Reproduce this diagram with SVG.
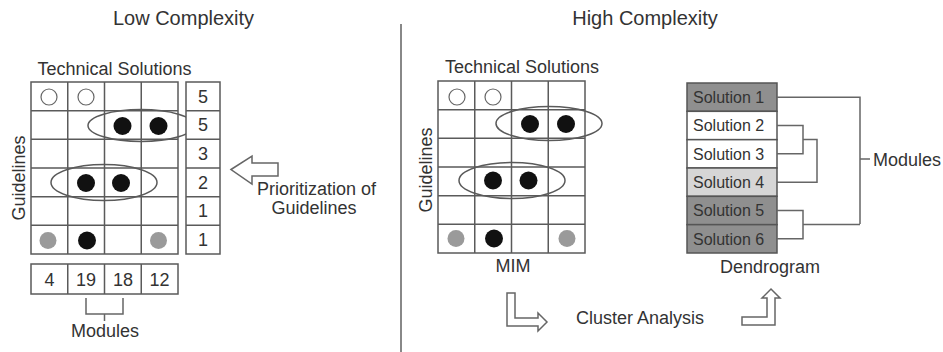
<svg xmlns="http://www.w3.org/2000/svg" width="943" height="352" viewBox="0 0 943 352">
<style>
text{font-family:"Liberation Sans",Arial,sans-serif;font-size:18px;fill:#333}
.t{font-size:20px}
.m{text-anchor:middle}
.g{fill:none;stroke:#5a5a5a;stroke-width:1.5}
.cell{fill:#fff;stroke:#5a5a5a;stroke-width:1.5}
.ell{fill:none;stroke:#5a5a5a;stroke-width:1.5}
.blk{fill:#111}
.gry{fill:#9a9a9a}
.open{fill:#fff;stroke:#666;stroke-width:1.2}
.ln{fill:none;stroke:#666;stroke-width:1.5}
.arr{fill:#fff;stroke:#666;stroke-width:1.5;stroke-linejoin:miter}
.dk{fill:#8f8f8f;stroke:#555;stroke-width:1.5}
.wh{fill:#fff;stroke:#555;stroke-width:1.5}
.lt{fill:#d6d6d6;stroke:#555;stroke-width:1.5}
.sol{font-size:16px}
</style>

<g id="titles">
<text class="t m" x="183.5" y="25">Low Complexity</text>
<text class="t m" x="645" y="25">High Complexity</text>
</g>
<line id="separator" x1="401" y1="24" x2="401" y2="352" stroke="#888" stroke-width="2"/>

<g id="left-matrix">
<text class="m" x="114.5" y="75">Technical Solutions</text>
<text class="m" transform="translate(25,178) rotate(-90)">Guidelines</text>
<rect class="cell" x="31" y="82" width="147" height="172"/>
<path class="g" d="M67.75,82V254M104.5,82V254M141.25,82V254M31,110.67H178M31,139.33H178M31,168H178M31,196.67H178M31,225.33H178"/>
<circle class="open" cx="49" cy="97" r="8"/>
<circle class="open" cx="86" cy="97" r="8"/>
<circle class="blk" cx="122.5" cy="126" r="9"/>
<circle class="blk" cx="158.5" cy="126" r="9"/>
<circle class="blk" cx="86" cy="183" r="9"/>
<circle class="blk" cx="121" cy="183" r="9"/>
<circle class="gry" cx="48" cy="240.5" r="8.5"/>
<circle class="blk" cx="87" cy="240.5" r="9"/>
<circle class="gry" cx="158.5" cy="240.5" r="8.5"/>
<ellipse class="ell" cx="141" cy="125.5" rx="53" ry="16"/>
<ellipse class="ell" cx="104" cy="182.5" rx="53" ry="18"/>
</g>

<g id="priority-column">
<rect class="cell" x="186" y="82" width="34" height="172"/>
<path class="g" d="M186,110.67H220M186,139.33H220M186,168H220M186,196.67H220M186,225.33H220"/>
<text class="m" x="203" y="102.7">5</text>
<text class="m" x="203" y="131.4">5</text>
<text class="m" x="203" y="160">3</text>
<text class="m" x="203" y="188.7">2</text>
<text class="m" x="203" y="217.4">1</text>
<text class="m" x="203" y="246">1</text>
</g>

<g id="prioritization">
<polygon class="arr" points="231,169.5 252,156 252,163 278,163 278,176 252,176 252,184"/>
<text class="m" x="316.5" y="195">Prioritization of</text>
<text class="m" x="314" y="213.5">Guidelines</text>
</g>

<g id="module-sums">
<rect class="cell" x="31" y="264" width="147" height="30"/>
<path class="g" d="M67.75,264V294M104.5,264V294M141.25,264V294"/>
<text class="m" x="49.4" y="285.5">4</text>
<text class="m" x="86.1" y="285.5">19</text>
<text class="m" x="122.9" y="285.5">18</text>
<text class="m" x="159.6" y="285.5">12</text>
<path class="ln" d="M86,298V314H123V298M104.5,314V321"/>
<text class="m" x="105" y="337">Modules</text>
</g>

<g id="mim">
<text class="m" x="522" y="73">Technical Solutions</text>
<text class="m" transform="translate(432,170) rotate(-90)">Guidelines</text>
<rect class="cell" x="438" y="81" width="147" height="172"/>
<path class="g" d="M474.75,81V253M511.5,81V253M548.25,81V253M438,109.67H585M438,138.33H585M438,167H585M438,195.67H585M438,224.33H585"/>
<circle class="open" cx="457" cy="97" r="8"/>
<circle class="open" cx="493" cy="97" r="8"/>
<circle class="blk" cx="530" cy="124" r="9"/>
<circle class="blk" cx="566" cy="124" r="9"/>
<circle class="blk" cx="493" cy="180.5" r="9"/>
<circle class="blk" cx="528.5" cy="180.5" r="9"/>
<circle class="gry" cx="456" cy="238.5" r="8.5"/>
<circle class="blk" cx="494" cy="238.5" r="9"/>
<circle class="gry" cx="567" cy="238.5" r="8.5"/>
<ellipse class="ell" cx="549" cy="123.5" rx="53" ry="17"/>
<ellipse class="ell" cx="512" cy="180.5" rx="53" ry="18"/>
<text class="m" x="513" y="272">MIM</text>
</g>

<g id="dendrogram">
<rect class="dk" x="687" y="83" width="90" height="28.33"/>
<rect class="wh" x="687" y="111.33" width="90" height="28.33"/>
<rect class="wh" x="687" y="139.67" width="90" height="28.33"/>
<rect class="lt" x="687" y="168" width="90" height="28.33"/>
<rect class="dk" x="687" y="196.33" width="90" height="28.33"/>
<rect class="dk" x="687" y="224.67" width="90" height="28.33"/>
<text class="sol" x="693" y="103">Solution 1</text>
<text class="sol" x="693" y="131.3">Solution 2</text>
<text class="sol" x="693" y="159.6">Solution 3</text>
<text class="sol" x="693" y="188">Solution 4</text>
<text class="sol" x="693" y="216.3">Solution 5</text>
<text class="sol" x="693" y="244.6">Solution 6</text>
<text class="m" x="770" y="273">Dendrogram</text>
</g>

<g id="connectors">
<path class="ln" d="M777,97.2H860V224M860,159H870"/>
<path class="ln" d="M777,125.5H803V153.8H777M803,139.6H817V182.2H777"/>
<path class="ln" d="M777,210.5H803V238.8H777M803,224.6H860"/>
<polygon class="arr" points="507,293 515,293 515,318 538,318 538,313 547,322 538,331 538,326 507,326"/>
<polygon class="arr" points="742,317 767,317 767,298 762,298 771,289 780,298 775,298 775,325 742,325"/>
</g>

<g id="labels">
<text x="873" y="166">Modules</text>
<text class="m" x="640" y="324">Cluster Analysis</text>
</g>
</svg>
